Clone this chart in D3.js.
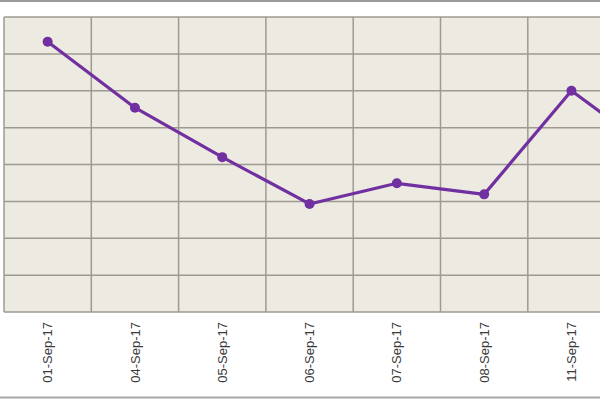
<!DOCTYPE html>
<html>
<head>
<meta charset="utf-8">
<script src="https://cdn.jsdelivr.net/npm/d3@7"></script>
<style>
  body { margin: 0; background: #fff; }
  svg { display: block; }
</style>
</head>
<body>
<div id="chart"></div>
<script>
const WIDTH = 600;
const HEIGHT = 400;
const MARGINS = { TOP: 17, LEFT: 4, BOTTOM: 88 };
const STEP = 87.3;

// data (y axis labels are cropped away)
const dates = ['01-Sep-17', '04-Sep-17', '05-Sep-17', '06-Sep-17', '07-Sep-17', '08-Sep-17', '11-Sep-17', '12-Sep-17'];
const values = [7.33, 5.54, 4.2, 2.93, 3.49, 3.19, 6.0, 4.26];
const yTicks = [0, 1, 2, 3, 4, 5, 6, 7, 8];

let svg = d3
    .select('#chart')
    .append('svg')
    .attr('width', WIDTH)
    .attr('height', HEIGHT);

// outer frame lines (top / bottom)
svg.append('line')
    .attr('x1', 0).attr('x2', WIDTH)
    .attr('y1', 1).attr('y2', 1)
    .attr('stroke', '#9a9a9a')
    .attr('stroke-width', 2);

svg.append('line')
    .attr('x1', 0).attr('x2', WIDTH)
    .attr('y1', 397.5).attr('y2', 397.5)
    .attr('stroke', '#a8a8a8')
    .attr('stroke-width', 2);

let plotBottom = HEIGHT - MARGINS.BOTTOM;

let xScale = d3
    .scaleBand()
    .domain(dates)
    .range([MARGINS.LEFT, MARGINS.LEFT + STEP * dates.length])
    .padding(0);

let yScale = d3
    .scaleLinear()
    .domain([0, 8])
    .range([plotBottom, MARGINS.TOP]);

let cx = d => xScale(d) + xScale.bandwidth() / 2;

// plot area
svg.append('rect')
    .attr('x', MARGINS.LEFT)
    .attr('y', MARGINS.TOP)
    .attr('width', STEP * dates.length)
    .attr('height', plotBottom - MARGINS.TOP)
    .attr('fill', '#edeae1');

// horizontal grid
svg.append('g')
    .attr('class', 'grid')
    .selectAll('line')
    .data(yTicks)
    .enter()
    .append('line')
    .attr('x1', MARGINS.LEFT)
    .attr('x2', MARGINS.LEFT + STEP * dates.length)
    .attr('y1', d => yScale(d))
    .attr('y2', d => yScale(d))
    .attr('stroke', '#9e9a92')
    .attr('stroke-width', 1.5);

// vertical grid at category edges
svg.append('g')
    .selectAll('line')
    .data(dates)
    .enter()
    .append('line')
    .attr('x1', d => xScale(d))
    .attr('x2', d => xScale(d))
    .attr('y1', MARGINS.TOP)
    .attr('y2', plotBottom)
    .attr('stroke', '#9e9a92')
    .attr('stroke-width', 1.5);

// x axis labels (only the ones that fall inside the visible window)
let xAxis = d3.axisBottom(xScale)
    .tickValues(dates.filter(d => cx(d) + 8 < WIDTH))
    .tickSize(0)
    .tickPadding(0);

let xg = svg.append('g')
    .attr('id', 'x-axis')
    .attr('transform', `translate(0, ${plotBottom})`)
    .call(xAxis);

xg.select('.domain').remove();

xg.selectAll('text')
    .attr('transform', 'rotate(-90)')
    .attr('x', -10)
    .attr('y', 0)
    .attr('dy', '0.35em')
    .style('text-anchor', 'end')
    .style('font-family', '"Liberation Sans", Arial, sans-serif')
    .style('font-size', '13px')
    .attr('fill', '#3a3a3a');

// line + markers
let line = d3.line()
    .x((d, i) => cx(dates[i]))
    .y(d => yScale(d));

svg.append('path')
    .datum(values)
    .attr('d', line)
    .attr('fill', 'none')
    .attr('stroke', '#7030a0')
    .attr('stroke-width', 3.2)
    .attr('stroke-linejoin', 'round');

svg.selectAll('circle')
    .data(values)
    .enter()
    .append('circle')
    .attr('cx', (d, i) => cx(dates[i]))
    .attr('cy', d => yScale(d))
    .attr('r', 5)
    .attr('fill', '#7030a0');
</script>
</body>
</html>
